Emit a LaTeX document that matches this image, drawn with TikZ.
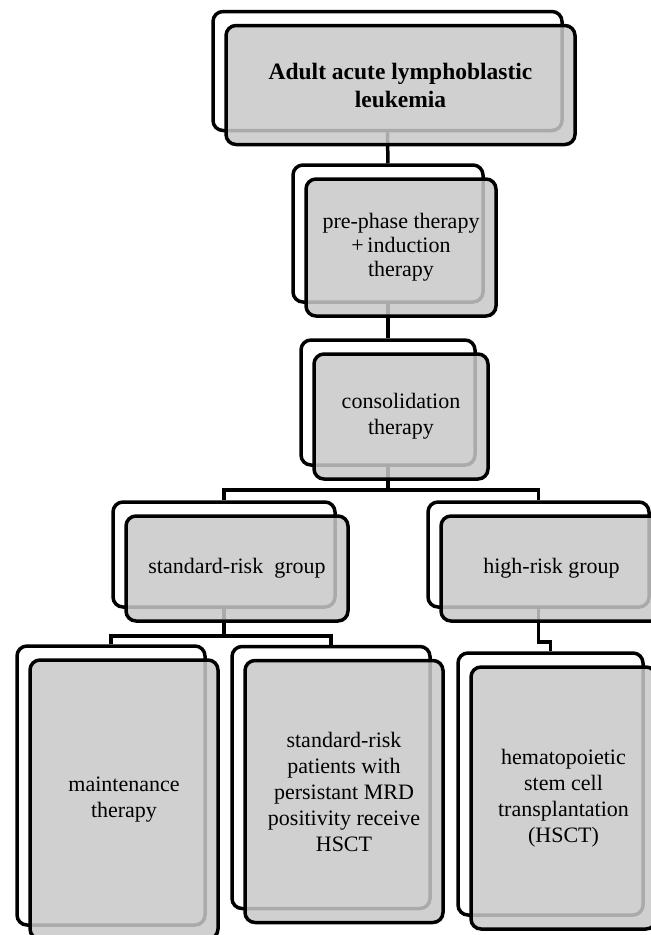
\documentclass[tikz,border=0pt]{standalone}
\usepackage{fontspec}
\setmainfont{Liberation Serif}

\definecolor{boxgray}{RGB}{200,200,200}

\tikzset{
	boxsize/.style 2 args={minimum width=#1pt, minimum height=#2pt},
	backbox/.style={draw, line width=3.5pt, rounded corners=10pt, fill=white, inner sep=0pt},
	frontbox/.style={draw, line width=3.5pt, rounded corners=10pt, fill=boxgray, fill opacity=0.85,
		text opacity=1, inner sep=0pt, align=center, font=\fontsize{22}{26}\selectfont},
	link/.style={line width=3.5pt}
}

\begin{document}
\begin{tikzpicture}[x=1pt, y=-1pt]
	\useasboundingbox (0,0) rectangle (651,935);
		% back boxes
		\node[backbox, boxsize={349}{119}] (adultb) at (387.5,71) {};
		\node[backbox, boxsize={190}{137}] (prephaseb) at (388,233.5) {};
		\node[backbox, boxsize={174}{125}] (consolb) at (388,402.5) {};
		\node[backbox, boxsize={222}{105}] (stdriskb) at (224,554.5) {};
		\node[backbox, boxsize={221}{105}] (highriskb) at (538.5,554.5) {};
		\node[backbox, boxsize={188}{279}] (maintb) at (111,785.5) {};
		\node[backbox, boxsize={198}{262}] (mrdb) at (331,777.5) {};
		\node[backbox, boxsize={185}{262}] (hsctb) at (550.5,784) {};
		% connectors
		\draw[link] (adultb) -- (prephaseb);
		\draw[link] (prephaseb) -- (consolb);
		\draw[link] (consolb.south) -- ++(0,23) -| (stdriskb.north);
		\draw[link] (consolb.south) -- ++(0,23) -| (highriskb.north);
		\draw[link] (stdriskb.south) -- ++(0,27) -| (maintb.north);
		\draw[link] (stdriskb.south) -- ++(0,27) -| (mrdb.north);
		\draw[link] (highriskb.south) -- ++(0,33) -| (hsctb.north);
		% front boxes
		\node[frontbox, boxsize={349}{119}, font=\fontsize{23.5}{28}\selectfont\bfseries] (adult) at (400.5,85) {Adult acute lymphoblastic\\leukemia};
		\node[frontbox, boxsize={190}{137}, font=\fontsize{22}{24}\selectfont] (prephase) at (401,247.5) {pre-phase therapy\\+\,induction\\therapy};
		\node[frontbox, boxsize={174}{125}] (consol) at (401,416.5) {consolidation\\therapy};
		\node[frontbox, boxsize={222}{105}] (stdrisk) at (237,568.5) {standard-risk\ \ group};
		\node[frontbox, boxsize={221}{105}] (highrisk) at (551.5,568.5) {high-risk group};
		\node[frontbox, boxsize={188}{279}] (maint) at (124,799.5) {maintenance\\therapy};
		\node[frontbox, boxsize={198}{262}] (mrd) at (344,791.5) {standard-risk\\patients with\\persistant MRD\\positivity receive\\HSCT};
		\node[frontbox, boxsize={185}{262}] (hsct) at (563.5,798) {hematopoietic\\stem cell\\transplantation\\(HSCT)};
	\end{tikzpicture}
\end{document}
